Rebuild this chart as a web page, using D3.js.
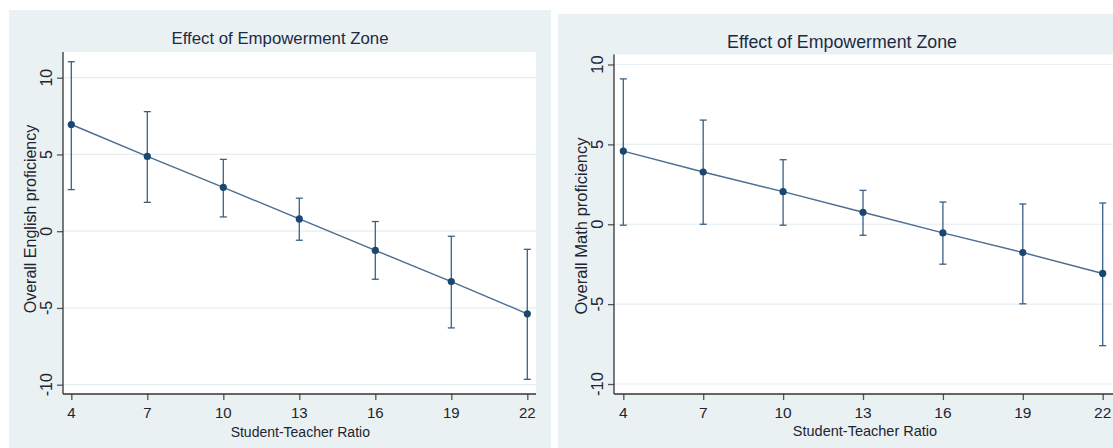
<!DOCTYPE html>
<html>
<head>
<meta charset="utf-8">
<script src="https://cdn.jsdelivr.net/npm/d3@7"></script>
<style>
  html, body { margin: 0; padding: 0; background: #ffffff; }
  svg { display: block; font-family: "Liberation Sans", Arial, sans-serif; }
</style>
</head>
<body>
<div id="chart"></div>
<script>
// Margins plot: effect of Empowerment Zone by student-teacher ratio (two panels)

const ratios = [4, 7, 10, 13, 16, 19, 22];
const yTicks = [-10, -5, 0, 5, 10];

const englishEst = [6.95, 4.87, 2.86, 0.80, -1.25, -3.28, -5.38];
const englishLo  = [2.71, 1.88, 0.93, -0.59, -3.13, -6.30, -9.65];
const englishHi  = [11.04, 7.79, 4.68, 2.15, 0.63, -0.33, -1.18];

const mathEst = [4.58, 3.27, 2.04, 0.75, -0.54, -1.77, -3.08];
const mathLo  = [-0.06, 0.00, -0.06, -0.69, -2.50, -4.98, -7.60];
const mathHi  = [9.10, 6.52, 4.04, 2.12, 1.39, 1.27, 1.33];

const chartTitle = "Effect of Empowerment Zone";
const xTitle = "Student-Teacher Ratio";

const bgColor = "#e9f1f3", gridColor = "#e6eef0", navy = "#1a476f", textColor = "#1f2430";

const svg = d3.select("#chart").append("svg")
    .attr("width", 1113)
    .attr("height", 448);

function drawPanel(cfg) {
    const data = ratios.map((r, i) => ({ x: r, est: cfg.est[i], lo: cfg.lo[i], hi: cfg.hi[i] }));

    // Grey-blue graph region
    svg.append("rect")
       .attr("x", cfg.bg[0]).attr("y", cfg.bg[1])
       .attr("width", cfg.bg[2] - cfg.bg[0]).attr("height", cfg.bg[3] - cfg.bg[1])
       .attr("fill", bgColor);

    // Scales: x 4..22 and y -10..10 mapped to measured tick positions
    const xScale = d3.scaleLinear().domain([4, 22]).range(cfg.xr);
    const yScale = d3.scaleLinear().domain([-10, 10]).range(cfg.yr);

    // White plot region
    svg.append("rect")
       .attr("x", cfg.plot[0]).attr("y", cfg.plot[1])
       .attr("width", cfg.plot[2] - cfg.plot[0]).attr("height", cfg.plot[3] - cfg.plot[1])
       .attr("fill", "#ffffff");

    // Horizontal gridlines
    svg.append("g")
       .selectAll("line")
       .data(yTicks)
       .enter()
       .append("line")
       .attr("x1", cfg.plot[0]).attr("x2", cfg.plot[2])
       .attr("y1", d => yScale(d)).attr("y2", d => yScale(d))
       .attr("stroke", gridColor)
       .attr("stroke-width", 1.2);

    // Y axis (Stata style: rotated labels)
    const yAxis = svg.append("g")
       .attr("transform", "translate(" + cfg.plot[0] + ",0)")
       .call(d3.axisLeft(yScale).tickValues(yTicks).tickSize(6).tickFormat(""));
    yAxis.select(".domain").remove();
    yAxis.selectAll(".tick line").attr("stroke", "#555").attr("stroke-width", 1.3);
    svg.append("line")
       .attr("x1", cfg.plot[0]).attr("x2", cfg.plot[0])
       .attr("y1", cfg.plot[1]).attr("y2", cfg.plot[3])
       .attr("stroke", "#333").attr("stroke-width", 1.3);
    svg.append("g")
       .selectAll("text")
       .data(yTicks)
       .enter()
       .append("text")
       .attr("transform", d => "translate(" + cfg.yLabelX + "," + yScale(d) + ") rotate(-90)")
       .attr("text-anchor", "middle")
       .attr("font-size", cfg.tickFont)
       .attr("fill", textColor)
       .text(d => d);

    // X axis
    const xAxis = svg.append("g")
       .attr("transform", "translate(0," + cfg.plot[3] + ")")
       .call(d3.axisBottom(xScale).tickValues(ratios).tickSize(6).tickFormat(""));
    xAxis.select(".domain").remove();
    xAxis.selectAll(".tick line").attr("stroke", "#555").attr("stroke-width", 1.3);
    svg.append("line")
       .attr("x1", cfg.plot[0]).attr("x2", cfg.plot[2])
       .attr("y1", cfg.plot[3]).attr("y2", cfg.plot[3])
       .attr("stroke", "#333").attr("stroke-width", 1.3);
    svg.append("g")
       .selectAll("text")
       .data(ratios)
       .enter()
       .append("text")
       .attr("x", d => xScale(d))
       .attr("y", cfg.xLabelY)
       .attr("text-anchor", "middle")
       .attr("font-size", cfg.xTickFont)
       .attr("fill", textColor)
       .text(d => d);

    // Titles
    svg.append("text")
       .attr("x", cfg.titleX).attr("y", cfg.titleY)
       .attr("text-anchor", "middle")
       .attr("font-size", cfg.titleFont)
       .attr("fill", "#1e2a44")
       .text(chartTitle);
    svg.append("text")
       .attr("x", (cfg.xr[0] + cfg.xr[1]) / 2 + cfg.xTitleDx).attr("y", cfg.xTitleY)
       .attr("text-anchor", "middle")
       .attr("font-size", cfg.xTitleFont)
       .attr("fill", textColor)
       .text(xTitle);
    svg.append("text")
       .attr("transform", "translate(" + cfg.yTitleX + "," + cfg.yTitleY + ") rotate(-90)")
       .attr("text-anchor", "middle")
       .attr("font-size", cfg.yTitleFont)
       .attr("fill", textColor)
       .text(cfg.yTitle);

    // Confidence intervals (rcap)
    const ci = svg.append("g").attr("stroke", "#3b5f82").attr("stroke-width", 1.3).attr("fill", "none");
    ci.selectAll(".ci-line")
      .data(data).enter().append("line")
      .attr("x1", d => xScale(d.x)).attr("x2", d => xScale(d.x))
      .attr("y1", d => yScale(d.lo)).attr("y2", d => yScale(d.hi));
    ci.selectAll(".cap-hi")
      .data(data).enter().append("line")
      .attr("x1", d => xScale(d.x) - 3.5).attr("x2", d => xScale(d.x) + 3.5)
      .attr("y1", d => yScale(d.hi)).attr("y2", d => yScale(d.hi));
    ci.selectAll(".cap-lo")
      .data(data).enter().append("line")
      .attr("x1", d => xScale(d.x) - 3.5).attr("x2", d => xScale(d.x) + 3.5)
      .attr("y1", d => yScale(d.lo)).attr("y2", d => yScale(d.lo));

    // Connected estimates
    const line = d3.line().x(d => xScale(d.x)).y(d => yScale(d.est));
    svg.append("path")
       .datum(data)
       .attr("d", line)
       .attr("fill", "none")
       .attr("stroke", "#4a6d90")
       .attr("stroke-width", 1.4);
    svg.append("g")
       .selectAll("circle")
       .data(data).enter().append("circle")
       .attr("cx", d => xScale(d.x))
       .attr("cy", d => yScale(d.est))
       .attr("r", 3.6)
       .attr("fill", navy);
}

drawPanel({
    est: englishEst, lo: englishLo, hi: englishHi,
    yTitle: "Overall English proficiency",
    bg: [9, 10, 551, 448],
    plot: [63, 52, 536, 394],
    xr: [71.3, 527.3], yr: [384.7, 77.7],
    yLabelX: 52, xLabelY: 418,
    titleX: 280, titleY: 44, titleFont: 16.8,
    tickFont: 16, xTickFont: 15,
    xTitleDx: 1, xTitleY: 437, xTitleFont: 14,
    yTitleX: 36, yTitleY: 219, yTitleFont: 16
});

drawPanel({
    est: mathEst, lo: mathLo, hi: mathHi,
    yTitle: "Overall Math proficiency",
    bg: [558, 14, 1113, 448],
    plot: [614, 54.5, 1113, 394],
    xr: [623.3, 1102.7], yr: [384, 64.5],
    yLabelX: 602.5, xLabelY: 418,
    titleX: 842, titleY: 48, titleFont: 17.8,
    tickFont: 16.5, xTickFont: 15.5,
    xTitleDx: 2, xTitleY: 436, xTitleFont: 14.5,
    yTitleX: 586.5, yTitleY: 226, yTitleFont: 16.5
});
</script>
</body>
</html>
